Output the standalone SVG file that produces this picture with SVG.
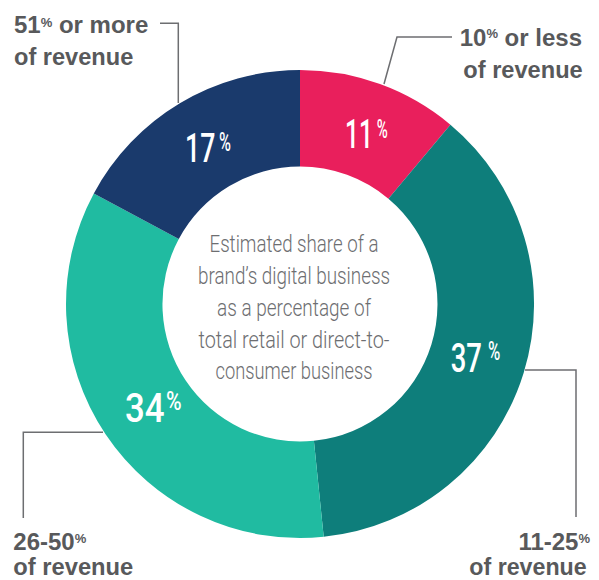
<svg xmlns="http://www.w3.org/2000/svg" width="599" height="580" viewBox="0 0 599 580">
<style>
.lbl{font-family:"Liberation Sans",Arial,sans-serif;font-weight:bold;fill:#58595b;font-size:24px}
.sup{font-size:13px}
.pct{font-family:Roboto,"Liberation Sans",sans-serif;font-weight:500;fill:#ffffff;font-size:41px}
.psup{font-size:25px}
.ctr{font-family:Roboto,"Liberation Sans",sans-serif;font-weight:300;fill:#6d6e71;font-size:23px;text-anchor:middle}
.lead{fill:none;stroke:#6d6e71;stroke-width:1.5}
</style>
<rect width="599" height="580" fill="#ffffff"/>
<g id="seg-pink">
<path d="M300,70 A234,234 0 0 1 450.4,124.7 L388.4,198.7 A137.5,137.5 0 0 0 300,166.5 Z" fill="#e91f5c"/>
<text class="pct" transform="translate(345,148.3) scale(0.6,1)">11<tspan class="psup" x="52.8" y="-10.6">%</tspan></text>
</g>
<g id="seg-darkteal">
<path d="M450.4,124.7 A234,234 0 0 1 323.7,536.8 L313.9,440.8 A137.5,137.5 0 0 0 388.4,198.7 Z" fill="#0e7e7b"/>
<text class="pct" transform="translate(450.7,371.7) scale(0.67,1)">37<tspan class="psup" x="55.7" y="-11.7">%</tspan></text>
</g>
<g id="seg-lightteal">
<path d="M323.7,536.8 A234,234 0 0 1 93.8,193.4 L178.8,239 A137.5,137.5 0 0 0 313.9,440.8 Z" fill="#20bba1"/>
<text class="pct" transform="translate(125,421.7) scale(0.85,1)">34<tspan class="psup" x="48.2" y="-11.7">%</tspan></text>
</g>
<g id="seg-navy">
<path d="M93.8,193.4 A234,234 0 0 1 300,70 L300,166.5 A137.5,137.5 0 0 0 178.8,239 Z" fill="#1a3a6c"/>
<text class="pct" transform="translate(185,161.7) scale(0.65,1)">17<tspan class="psup" x="52.3" y="-11">%</tspan></text>
</g>
<g id="center-text">
<text class="ctr" x="294" y="252" textLength="169" lengthAdjust="spacingAndGlyphs">Estimated share of a</text>
<text class="ctr" x="294" y="284" textLength="192" lengthAdjust="spacingAndGlyphs">brand’s digital business</text>
<text class="ctr" x="294" y="316" textLength="154" lengthAdjust="spacingAndGlyphs">as a percentage of</text>
<text class="ctr" x="294" y="348" textLength="191" lengthAdjust="spacingAndGlyphs">total retail or direct-to-</text>
<text class="ctr" x="294" y="379" textLength="157" lengthAdjust="spacingAndGlyphs">consumer business</text>
</g>
<g id="connectors">
<polyline class="lead" points="160,23.3 178.3,23.3 178.3,103"/>
<polyline class="lead" points="452,37 397,37 384,84"/>
<polyline class="lead" points="103,432.3 23.3,432.3 23.3,518"/>
<polyline class="lead" points="525,370 576,370 576,517"/>
</g>
<g id="label-51">
<text class="lbl" x="14" y="33.3">51<tspan class="sup" dy="-6.6">%</tspan><tspan dy="6.6"> or more</tspan></text>
<text class="lbl" x="14" y="65" textLength="119.3" lengthAdjust="spacingAndGlyphs">of revenue</text>
</g>
<g id="label-10">
<text class="lbl" x="582" y="46" text-anchor="end">10<tspan class="sup" dy="-7.7">%</tspan><tspan dy="7.7"> or less</tspan></text>
<text class="lbl" x="463.3" y="78.3" textLength="119.4" lengthAdjust="spacingAndGlyphs">of revenue</text>
</g>
<g id="label-26">
<text class="lbl" x="13.3" y="550">26-50<tspan class="sup" dy="-6.7">%</tspan></text>
<text class="lbl" x="13.3" y="575" textLength="120" lengthAdjust="spacingAndGlyphs">of revenue</text>
</g>
<g id="label-11">
<text class="lbl" x="590" y="550" text-anchor="end">11-25<tspan class="sup" dy="-6.7">%</tspan></text>
<text class="lbl" x="469.3" y="575" textLength="117.4" lengthAdjust="spacingAndGlyphs">of revenue</text>
</g>
</svg>
